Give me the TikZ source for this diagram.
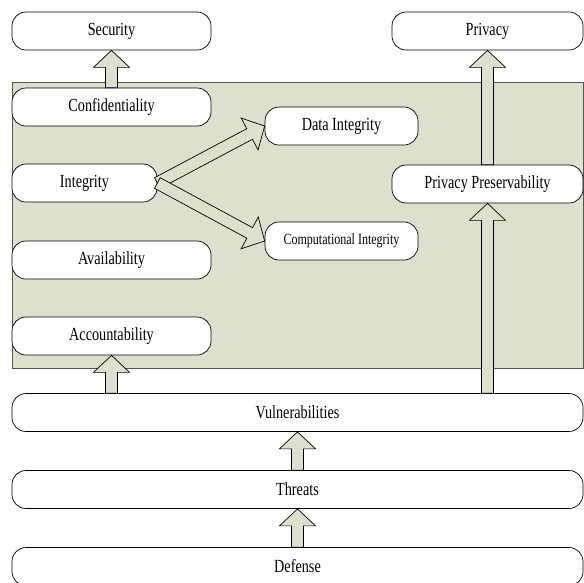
\documentclass[tikz,border=0pt]{standalone}
\usepackage{fontspec}
\setmainfont{Liberation Serif}[FakeStretch=0.77]
\usepackage{tikz}
\usetikzlibrary{calc,positioning}

\definecolor{paneGreen}{RGB}{221,224,205}
\definecolor{paneEdge}{RGB}{85,85,85}

\tikzset{
  layer/.style={draw, fill=white, rounded corners=14pt, minimum height=38pt,
    inner sep=0pt, line width=0.7pt, font=\fontsize{18.5}{20}\selectfont, minimum width=#1},
  layer/.default=199pt,
  fat arrow/.style={draw, fill=paneGreen, line width=0.7pt, line join=miter}
}

% block arrow from #1 (tail) to #2 (tip)
\newcommand{\fatarrow}[2]{%
  \draw[fat arrow] ($(#1)!6pt!90:(#2)$) -- ($(#2)!17pt!(#1)!6pt!90:(#2)$)
    -- ($(#2)!17pt!(#1)!18pt!90:(#2)$) -- (#2)
    -- ($(#2)!17pt!(#1)!18pt!-90:(#2)$) -- ($(#2)!17pt!(#1)!6pt!-90:(#2)$)
    -- ($(#1)!6pt!-90:(#2)$) -- cycle;}

\begin{document}
\begin{tikzpicture}[x=1pt, y=-1pt]
    \useasboundingbox (0,0) rectangle (584,582);

    % shaded pane
    \draw[fill=paneGreen, draw=paneEdge, line width=0.8pt] (12,82) rectangle (583,368);

    \node[layer] (SEC) at (111.5,31) {Security};
    \node[layer=191pt] (PRIV) at (487.5,31) {Privacy};

    \node[layer] (CONF) at (111.5,107) {Confidentiality};
    \node[layer=145pt] (INT) at (84.5,183) {Integrity};
    \node[layer] (AVAIL) at (111.5,260) {Availability};
    \node[layer] (ACC) at (111.5,336) {Accountability};

    \node[layer=153pt] (DINT) at (341.5,126) {Data Integrity};
    \node[layer=153pt, font=\fontsize{15.6}{17}\selectfont] (CINT) at (341.5,241) {Computational Integrity};
    \node[layer=191pt] (PP) at (487.5,184) {Privacy Preservability};

    \node[layer=571pt] (VUL) at (297.5,412.5) {Vulnerabilities};
    \node[layer=571pt] (THR) [below of=VUL, node distance=77pt] {Threats};
    \node[layer=571pt] (DEF) [below of=THR, node distance=77pt] {Defense};

    \fatarrow{CONF.north}{SEC.south}
    \fatarrow{PP.north}{PRIV.south}
    \fatarrow{INT.east}{DINT.west}
    \fatarrow{INT.east}{CINT.west}
    \fatarrow{VUL.north -| PP}{PP.south}
    \fatarrow{VUL.north -| ACC}{ACC.south}
    \fatarrow{THR.north}{VUL.south}
    \fatarrow{DEF.north}{THR.south}
\end{tikzpicture}
\end{document}
